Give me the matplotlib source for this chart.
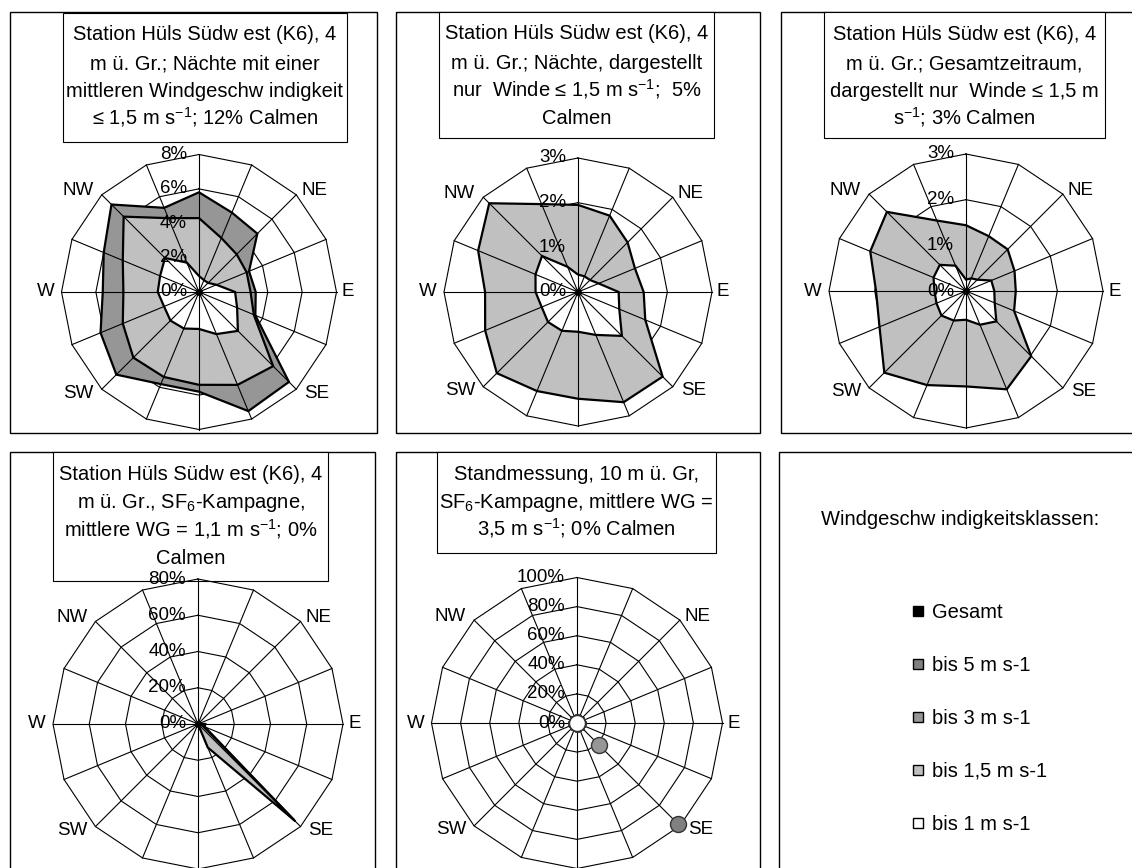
import numpy as np
import matplotlib
matplotlib.use("Agg")
import matplotlib.pyplot as plt
from matplotlib.patches import Rectangle

plt.rcParams['font.family'] = ['Liberation Sans', 'DejaVu Sans']
plt.rcParams['mathtext.fontset'] = 'custom'
plt.rcParams['mathtext.rm'] = 'Liberation Sans'
plt.rcParams['mathtext.it'] = 'Liberation Sans'
plt.rcParams['mathtext.bf'] = 'Liberation Sans:bold'

# 16 Windrichtungen, im Uhrzeigersinn ab N
directions = ["N", "NNE", "NE", "ENE", "E", "ESE", "SE", "SSE",
              "S", "SSW", "SW", "WSW", "W", "WNW", "NW", "NNW"]
shown_dirs = ["NE", "E", "SE", "SW", "W", "NW"]

# Panel 1: Naechte mit mittlerer WG <= 1,5 m/s (Werte in %)
p1_bis3 = [5.8, 5.0, 4.8, 3.15, 3.3, 3.55, 7.4, 7.5, 5.8, 5.8, 6.8, 6.2, 5.6, 6.0, 7.2, 5.3]
p1_bis15 = [4.3, 3.4, 3.1, 3.0, 3.0, 3.45, 6.1, 5.85, 5.4, 5.35, 5.4, 4.8, 4.4, 4.8, 6.2, 4.65]
p1_bis1 = [0.93, 0.75, 0.75, 1.1, 2.1, 2.4, 3.2, 2.65, 2.15, 2.3, 2.35, 2.2, 2.4, 2.45, 2.8, 1.85]

# Panel 2: Naechte, nur Winde <= 1,5 m/s
p2_bis15 = [1.95, 1.85, 1.57, 1.38, 1.47, 1.63, 2.68, 2.67, 2.39, 2.4, 2.57, 2.25, 2.08, 2.42, 2.81, 2.13]
p2_bis1 = [0.39, 0.38, 0.38, 0.5, 0.91, 1.0, 1.39, 1.04, 0.89, 0.94, 0.95, 0.88, 0.95, 1.03, 1.14, 0.61]

# Panel 3: Gesamtzeitraum, nur Winde <= 1,5 m/s
p3_bis15 = [1.44, 1.3, 1.29, 1.15, 1.09, 1.14, 2.02, 2.33, 2.09, 2.23, 2.53, 2.05, 1.97, 2.27, 2.45, 1.67]
p3_bis1 = [0.25, 0.3, 0.35, 0.6, 0.62, 0.68, 0.94, 0.8, 0.63, 0.7, 0.76, 0.7, 0.69, 0.77, 0.81, 0.6]

# Panel 4: SF6-Kampagne, Station K6
p4_bis3 = [0, 0, 0, 0, 4, 4, 76, 3, 0, 0, 0, 0, 0, 0, 0, 0]
p4_bis15 = [0, 0, 0, 0, 3, 3, 75, 14, 0, 0, 0, 0, 0, 0, 0, 0]
p4_bis1 = [0, 0, 0, 0, 2, 1, 1, 1, 0, 0, 0, 0, 0, 0, 0, 0]

# Panel 5: Standmessung 10 m, SF6-Kampagne
p5_bis5 = [0, 0, 0, 0, 0, 0, 98, 0, 0, 0, 0, 0, 0, 0, 0, 0]
p5_bis3 = [0, 0, 0, 0, 0, 0, 21, 0, 0, 0, 0, 0, 0, 0, 0, 0]
p5_bis15 = [0] * 16
p5_bis1 = [0] * 16

legend_names = ["Gesamt", "bis 5 m s-1", "bis 3 m s-1", "bis 1,5 m s-1", "bis 1 m s-1"]
legend_colors = ["black", "#808080", "#969696", "#C0C0C0", "white"]

W, H = 1132, 868
fig = plt.figure(figsize=(W / 100, H / 100), dpi=100)
fig.patch.set_facecolor("white")


def fx(x):
    return x / W


def fy(y):
    return 1 - y / H


theta = np.radians(np.arange(16) * 22.5)
label_pos = {"NE": (45, "left", 5, 4), "E": (90, "left", 5, 0), "SE": (135, "left", 8, -4),
             "SW": (225, "right", -8, -4), "W": (270, "right", -7, 0), "NW": (315, "right", -8, 4)}


def radar(cx, cy, R, rmax, step, layers, kind="fill"):
    ax = fig.add_axes([fx(cx - R), fy(cy + R), 2 * R / W, 2 * R / H], projection="polar")
    ax.set_theta_zero_location("N")
    ax.set_theta_direction(-1)
    ax.set_ylim(0, rmax)
    ax.set_xticks([])
    ax.set_yticks([])
    ax.grid(False)
    ax.spines["polar"].set_visible(False)
    ax.patch.set_visible(False)
    closed = np.append(theta, theta[0])
    for lv in np.arange(step, rmax + step / 2, step):
        ax.plot(closed, [lv] * 17, color="black", lw=0.8, zorder=1, clip_on=False)
    for t in theta:
        ax.plot([t, t], [0, rmax], color="black", lw=0.8, zorder=3, clip_on=False)
    for values, color in layers:
        if kind == "fill":
            v = np.append(values, values[0])
            ax.fill(closed, v, facecolor=color, edgecolor="black", lw=1.6, zorder=2)
        else:
            ax.plot(theta, values, "o", ls="none", ms=11.5, mfc=color, mec="#333333",
                    mew=1.0, zorder=4, clip_on=False)
    if kind == "fill":
        ax.plot([0], [0], "o", color="black", ms=4, zorder=4)
    for lv in np.arange(0, rmax + step / 2, step):
        ax.annotate(f"{lv:g}%", xy=(0, lv), xytext=(-12, 0), textcoords="offset pixels",
                    ha="right", va="center", fontsize=13.5, zorder=5)
    for name in shown_dirs:
        ang, ha, dx, dy = label_pos[name]
        ax.annotate(name, xy=(np.radians(ang), rmax), xytext=(dx, dy), textcoords="offset pixels",
                    ha=ha, va="center", fontsize=13.5, zorder=5)
    return ax


def frame(x0, y0, x1, y1):
    fig.add_artist(Rectangle((fx(x0), fy(y1)), (x1 - x0) / W, (y1 - y0) / H,
                             transform=fig.transFigure, fill=False, edgecolor="black",
                             lw=1.0, zorder=-2))


def title_box(x0, y0, x1, y1, lines, ys):
    fig.add_artist(Rectangle((fx(x0), fy(y1)), (x1 - x0) / W, (y1 - y0) / H,
                             transform=fig.transFigure, facecolor="white", edgecolor="black",
                             lw=0.8, zorder=-1))
    xc = (x0 + x1) / 2
    for s, y in zip(lines, ys):
        fig.text(fx(xc), fy(y + 7), s, ha="center", va="baseline", fontsize=14.5)


# Rahmen der sechs Felder
frame(10, 12, 377, 433)
frame(396, 12, 760, 433)
frame(781, 12, 1150, 433)
frame(10, 452, 375, 880)
frame(396, 452, 760, 880)
frame(779, 452, 1150, 880)

radar(199, 292, 137.5, 8, 2, [(p1_bis3, "#969696"), (p1_bis15, "#C0C0C0"), (p1_bis1, "white")])
title_box(63, 13, 347, 142,
          ["Station Hüls Südw est (K6), 4", "m ü. Gr.; Nächte mit einer",
           "mittleren Windgeschw indigkeit", "≤ 1,5 m s$^{-1}$; 12% Calmen"],
          [33, 62, 90, 117])

radar(578, 292, 134, 3, 1, [(p2_bis15, "#C0C0C0"), (p2_bis1, "white")])
title_box(439, 12, 714, 138,
          ["Station Hüls Südw est (K6), 4", "m ü. Gr.; Nächte, dargestellt",
           "nur  Winde ≤ 1,5 m s$^{-1}$;  5%", "Calmen"],
          [32, 62, 89, 117])

radar(966, 291, 137, 3, 1, [(p3_bis15, "#C0C0C0"), (p3_bis1, "white")])
title_box(824, 12, 1105, 138,
          ["Station Hüls Südw est (K6), 4", "m ü. Gr.; Gesamtzeitraum,",
           "dargestellt nur  Winde ≤ 1,5 m", "s$^{-1}$; 3% Calmen"],
          [33, 62, 90, 117])

radar(198, 724, 145, 80, 20, [(p4_bis3, "#969696"), (p4_bis15, "#C0C0C0"), (p4_bis1, "white")])
title_box(53, 452, 328, 581,
          ["Station Hüls Südw est (K6), 4", "m ü. Gr., SF$_6$-Kampagne,",
           "mittlere WG = 1,1 m s$^{-1}$; 0%", "Calmen"],
          [473, 501, 529, 557])

radar(577, 723, 145.5, 100, 20,
      [(p5_bis5, "#808080"), (p5_bis3, "#969696"), (p5_bis15, "#C0C0C0"), (p5_bis1, "white")],
      kind="marker")
title_box(437, 452, 716, 553,
          ["Standmessung, 10 m ü. Gr,", "SF$_6$-Kampagne, mittlere WG =",
           "3,5 m s$^{-1}$; 0% Calmen"],
          [473, 501, 528])

# Legende
fig.text(fx(960), fy(518 + 7), "Windgeschw indigkeitsklassen:", ha="center", va="baseline",
         fontsize=14.5)
for i, (name, col) in enumerate(zip(legend_names, legend_colors)):
    yc = 610.7 + i * 53
    fig.add_artist(Rectangle((fx(913), fy(yc + 5)), 10 / W, 10 / H, transform=fig.transFigure,
                             facecolor=col, edgecolor="black", lw=1.0))
    fig.text(fx(932), fy(yc + 7), name, ha="left", va="baseline", fontsize=14.5)

fig.savefig("out.png", dpi=100)
